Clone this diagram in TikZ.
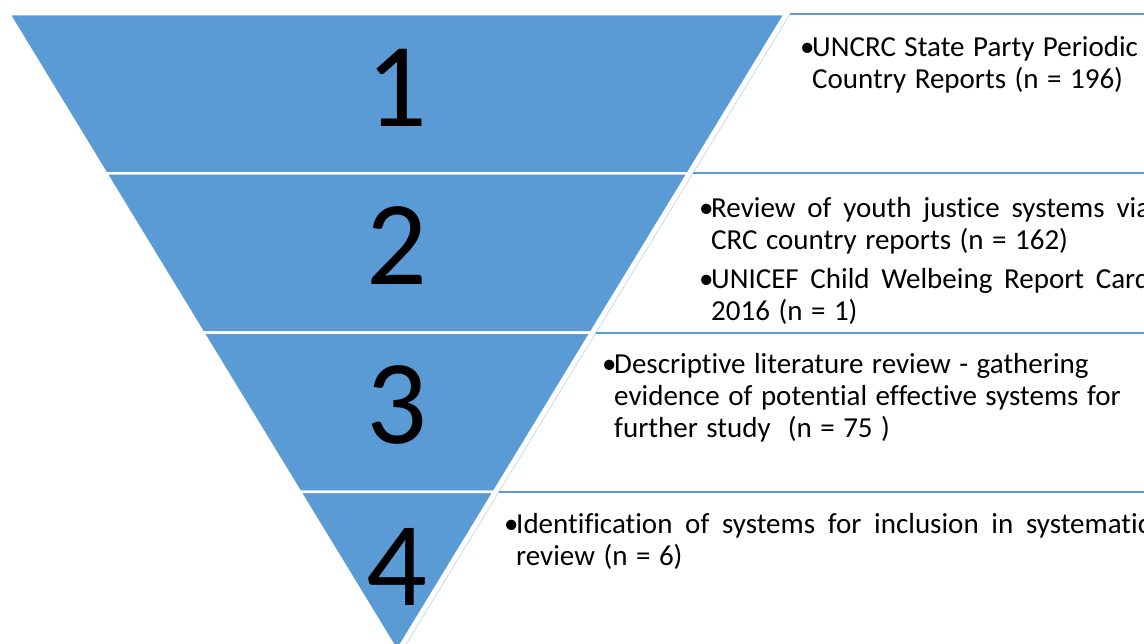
\documentclass[tikz,border=0pt]{standalone}
\usepackage{fontspec}
\setmainfont{Carlito}[Ligatures=NoCommon, WordSpace=1.3]
\usetikzlibrary{calc}
\definecolor{pyrblue}{RGB}{91,155,213}

% bullet with hanging indent for the stage notes
\newcommand{\stagebullet}{\par\spaceskip=0pt\xspaceskip=0pt\hangindent=12pt\hangafter=1\noindent\makebox[12pt][l]{\textbullet}}

\begin{document}
\begin{tikzpicture}[x=1pt,y=-1pt]
    % Styles for bands, boxes and texts
    \tikzset{
      band/.style={fill=pyrblue, draw=white, line width=2.5pt},
      notetop/.style={draw=pyrblue, line width=2pt},
      noteside/.style={draw=pyrblue!45, line width=0.6pt},
      stagenum/.style={inner sep=0pt, font=\fontsize{120}{120}\selectfont},
      note/.style={anchor=north west, inner sep=0pt, font=\fontsize{29}{32}\selectfont}
    }
    \useasboundingbox (0,0) rectangle (1144,643);
    \clip (0,0) rectangle (1144,643);

    % Corners of the inverted pyramid
    \coordinate (tl) at (9,14);
    \coordinate (tr) at (785,14);
    \coordinate (apex) at (397,651);

    % Boxes beside the bands, then the four bands
    \foreach \k [evaluate=\k as \kf using \k/4, evaluate=\k as \kk using (\k+1)/4] in {0,...,3} {
      \draw[noteside] ($(tr)!\kf!(apex)+(5,0)$) -- ($(tr)!\kk!(apex)+(5,0)$);
      \draw[notetop] ($(tr)!\kf!(apex)+(5,0)$) -- ++(800,0);
      \draw[band] ($(tl)!\kf!(apex)$) -- ($(tr)!\kf!(apex)$) -- ($(tr)!\kk!(apex)$) -- ($(tl)!\kk!(apex)$) -- cycle;
    }

    % Stage numbers
    \foreach \n/\y in {1/88, 2/246, 3/405, 4/567}
      \node[stagenum] (num\n) at (397,\y) {\n};

    % Notes with explicit coordinates
    \node[note, text width=344pt, align=left] (note1) at (800,24.6)
      {\stagebullet\strut UNCRC State Party Periodic\newline Country Reports (n = 196)\par};
    \node[note, text width=451pt, align=justify] (note2) at (699,185.6)
      {\stagebullet\strut Review of youth justice systems via\linebreak CRC country reports (n = 162)\par\vspace{7pt}%
       \stagebullet\strut UNICEF Child Welbeing Report Card\linebreak 2016 (n = 1)\par};
    \node[note, text width=540pt, align=left] (note3) at (602,341.6)
      {\stagebullet\strut Descriptive literature review - gathering\newline evidence of potential effective systems for\newline further study\ \ (n = 75\ )\par};
    \node[note, text width=646pt, align=justify] (note4) at (504,501.6)
      {\stagebullet\strut Identification of systems for inclusion in systematic\linebreak review (n = 6)\par};

\end{tikzpicture}
\end{document}
